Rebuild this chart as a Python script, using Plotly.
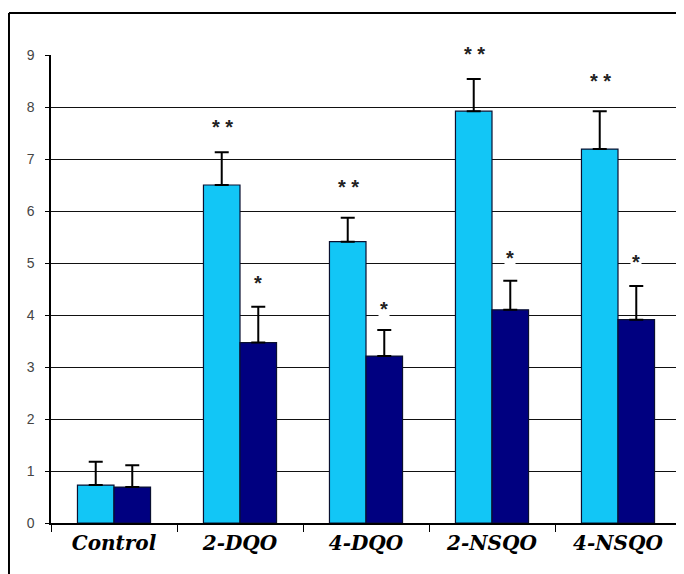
import plotly.graph_objects as go

categories = ["Control", "2-DQO", "4-DQO", "2-NSQO", "4-NSQO"]
light_vals = [0.73, 6.5, 5.41, 7.92, 7.19]
light_err = [0.45, 0.63, 0.46, 0.62, 0.73]
dark_vals = [0.69, 3.47, 3.21, 4.10, 3.91]
dark_err = [0.42, 0.69, 0.50, 0.56, 0.65]
light_stars = ["", "* *", "* *", "* *", "* *"]
light_star_y = [0, 7.65, 6.5, 9.06, 8.54]
dark_stars = ["", "*", "*", "*", "*"]
dark_star_y = [0, 4.65, 4.15, 5.13, 5.06]
y_ticks = [0, 1, 2, 3, 4, 5, 6, 7, 8, 9]
Y_MAX = 9

LIGHT = "#12C6F6"
DARK = "#000080"

fig = go.Figure()
for vals, errs, col in [(light_vals, light_err, LIGHT), (dark_vals, dark_err, DARK)]:
    fig.add_trace(go.Bar(
        x=categories, y=vals,
        marker=dict(color=col, line=dict(color="#0a1030", width=1.2)),
        error_y=dict(type="data", array=errs, arrayminus=[0] * len(errs),
                     symmetric=False, color="black", thickness=2, width=7),
        showlegend=False,
    ))

for stars, ys, shift in [(light_stars, light_star_y, -18), (dark_stars, dark_star_y, 18)]:
    for c, s, yv in zip(categories, stars, ys):
        if s:
            fig.add_annotation(x=c, y=yv / Y_MAX, xref="x", yref="paper", text="<b>%s</b>" % s,
                               showarrow=False, xshift=shift, yshift=-2, bgcolor="white",
                               xanchor="center", yanchor="middle", borderpad=1,
                               font=dict(family="Liberation Sans, Arial", size=20, color="#222"))

# outer frame
fig.add_shape(type="line", xref="paper", yref="paper", x0=-0.0667, x1=-0.0667, y0=-0.11, y1=1.0897,
              line=dict(color="black", width=2))
fig.add_shape(type="line", xref="paper", yref="paper", x0=-0.0667, x1=1.01, y0=1.0897, y1=1.0897,
              line=dict(color="black", width=2))
fig.add_shape(type="line", xref="paper", yref="paper", x0=1.0, x1=1.0, y0=0, y1=1.0,
              line=dict(color="#bbbbbb", width=1))

fig.update_layout(
    width=676, height=566,
    margin=dict(l=43, r=3, t=47, b=51, autoexpand=False),
    paper_bgcolor="white", plot_bgcolor="white",
    barmode="group", bargap=0.42, bargroupgap=0,
    font=dict(family="Liberation Sans, Arial", color="#333"),
)
fig.update_yaxes(range=[0, Y_MAX], tickvals=y_ticks, showgrid=True, gridcolor="#111", gridwidth=1.3,
                 showline=True, linecolor="black", linewidth=1.5, ticks="outside", ticklen=4,
                 tickcolor="black", tickfont=dict(size=14, color="#444"), zeroline=False,
                 ticklabelstandoff=8, automargin=False)
fig.update_xaxes(showline=True, linecolor="black", linewidth=1.5, ticks="outside", ticklen=7,
                 tickson="boundaries", tickcolor="black", automargin=False,
                 ticklabelstandoff=1,
                 tickfont=dict(family="DejaVu Serif", size=20, color="black"))
fig.update_xaxes(ticktext=["<b><i>%s</i></b>" % c for c in categories], tickvals=categories)

fig.write_html("out.html")
